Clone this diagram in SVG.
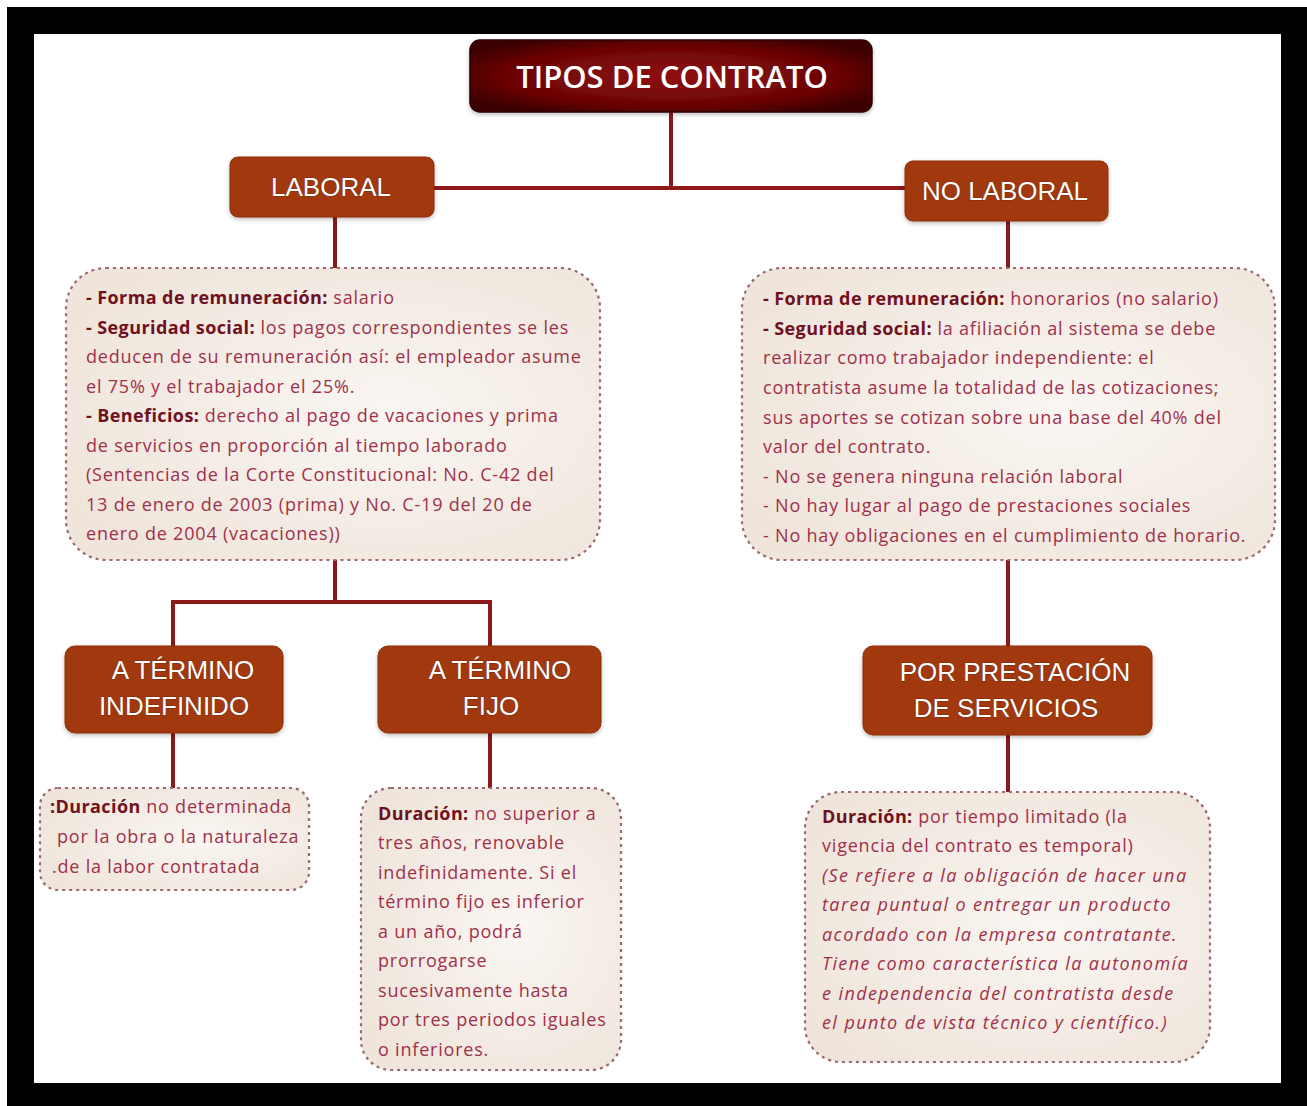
<svg xmlns="http://www.w3.org/2000/svg" width="1307" height="1106" viewBox="0 0 1307 1106">
<defs>
<radialGradient id="gTitle" cx="50%" cy="50%" r="60%">
<stop offset="0" stop-color="#900c0c"/>
<stop offset="0.7" stop-color="#6a0505"/>
<stop offset="1" stop-color="#3a0000"/>
</radialGradient>
<radialGradient id="gBox" cx="60%" cy="50%" r="65%">
<stop offset="0" stop-color="#faf6f2"/>
<stop offset="1" stop-color="#efe5db"/>
</radialGradient>
<filter id="sh" x="-10%" y="-10%" width="120%" height="130%">
<feDropShadow dx="0" dy="2" stdDeviation="2" flood-color="#000" flood-opacity="0.25"/>
</filter>
</defs>
<style>
.node rect.n{fill:#a2390d;stroke:#8a2e08;stroke-width:1}
.lbl{font-family:"Liberation Sans",Arial,sans-serif;font-size:26px;fill:#fff;text-anchor:middle;stroke:#5a1a08;stroke-width:0.6;paint-order:stroke}
.box{fill:url(#gBox);stroke:#9a6870;stroke-width:2.2;stroke-dasharray:3 4}
.t{font-family:"Open Sans",sans-serif;font-size:18px;letter-spacing:0.8px;fill:#a0304a}
.b{font-weight:bold;fill:#701020;letter-spacing:0.4px}
.i{font-style:italic;letter-spacing:1.4px}
.conn{stroke:#8c1818;stroke-width:4;fill:none}
</style>
<rect x="7" y="7" width="1300" height="1099" fill="#000"/>
<rect x="34" y="34" width="1247" height="1049" fill="#fff"/>

<g id="connectors">
<path class="conn" d="M671 112 V188 M433 188 H905"/>
<path class="conn" d="M335 217 V270"/>
<path class="conn" d="M335 560 V602 M173 602 H490 M173 600 V648 M490 600 V648"/>
<path class="conn" d="M173 733 V788 M490 733 V790"/>
<path class="conn" d="M1008 221 V270 M1008 560 V648 M1008 735 V792"/>
</g>

<g id="title" class="node">
<rect x="470" y="40" width="402" height="72" rx="10" fill="url(#gTitle)" stroke="#2a0000" stroke-width="1.5" filter="url(#sh)"/>
<text x="672" y="88" style="font-family:'Open Sans',sans-serif;font-weight:600;font-size:31px;fill:#fff;text-anchor:middle">TIPOS DE CONTRATO</text>
</g>

<g id="laboral" class="node">
<rect class="n" x="230" y="157" width="204" height="60" rx="8" filter="url(#sh)"/>
<text class="lbl" x="331" y="196">LABORAL</text>
</g>

<g id="nolaboral" class="node">
<rect class="n" x="905" y="161" width="203" height="60" rx="8" filter="url(#sh)"/>
<text class="lbl" x="1005" y="200">NO LABORAL</text>
</g>

<g id="laboral-info">
<rect class="box" x="66" y="268" width="534" height="292" rx="40"/>
<text class="t">
<tspan x="86" y="304"><tspan class="b">- Forma de remuneración:</tspan> salario</tspan>
<tspan x="86" y="334"><tspan class="b">- Seguridad social:</tspan> los pagos correspondientes se les</tspan>
<tspan x="86" y="363">deducen de su remuneración así: el empleador asume</tspan>
<tspan x="86" y="393">el 75% y el trabajador el 25%.</tspan>
<tspan x="86" y="422"><tspan class="b">- Beneficios:</tspan> derecho al pago de vacaciones y prima</tspan>
<tspan x="86" y="452">de servicios en proporción al tiempo laborado</tspan>
<tspan x="86" y="481">(Sentencias de la Corte Constitucional: No. C-42 del</tspan>
<tspan x="86" y="511">13 de enero de 2003 (prima) y No. C-19 del 20 de</tspan>
<tspan x="86" y="540">enero de 2004 (vacaciones))</tspan>
</text>
</g>

<g id="nolaboral-info">
<rect class="box" x="742" y="268" width="533" height="292" rx="40"/>
<text class="t">
<tspan x="763" y="305"><tspan class="b">- Forma de remuneración:</tspan> honorarios (no salario)</tspan>
<tspan x="763" y="335"><tspan class="b">- Seguridad social:</tspan> la afiliación al sistema se debe</tspan>
<tspan x="763" y="364">realizar como trabajador independiente: el</tspan>
<tspan x="763" y="394">contratista asume la totalidad de las cotizaciones;</tspan>
<tspan x="763" y="424">sus aportes se cotizan sobre una base del 40% del</tspan>
<tspan x="763" y="453">valor del contrato.</tspan>
<tspan x="763" y="483">- No se genera ninguna relación laboral</tspan>
<tspan x="763" y="512">- No hay lugar al pago de prestaciones sociales</tspan>
<tspan x="763" y="542">- No hay obligaciones en el cumplimiento de horario.</tspan>
</text>
</g>

<g id="indefinido" class="node">
<rect class="n" x="65" y="646" width="218" height="87" rx="10" filter="url(#sh)"/>
<text class="lbl" x="183" y="679">A TÉRMINO</text>
<text class="lbl" x="174" y="715">INDEFINIDO</text>
</g>

<g id="fijo" class="node">
<rect class="n" x="378" y="646" width="223" height="87" rx="10" filter="url(#sh)"/>
<text class="lbl" x="500" y="679">A TÉRMINO</text>
<text class="lbl" x="491" y="715">FIJO</text>
</g>

<g id="servicios" class="node">
<rect class="n" x="863" y="646" width="289" height="89" rx="10" filter="url(#sh)"/>
<text class="lbl" x="1015" y="681">POR PRESTACIÓN</text>
<text class="lbl" x="1006" y="717">DE SERVICIOS</text>
</g>

<g id="indefinido-info">
<rect class="box" x="40" y="788" width="269" height="102" rx="18"/>
<text class="t">
<tspan x="50" y="813"><tspan class="b">:Duración</tspan> no determinada</tspan>
<tspan x="57" y="843">por la obra o la naturaleza</tspan>
<tspan x="52" y="873">.de la labor contratada</tspan>
</text>
</g>

<g id="fijo-info">
<rect class="box" x="361" y="788" width="260" height="282" rx="30"/>
<text class="t">
<tspan x="378" y="820"><tspan class="b">Duración:</tspan> no superior a</tspan>
<tspan x="378" y="849">tres años, renovable</tspan>
<tspan x="378" y="879">indefinidamente. Si el</tspan>
<tspan x="378" y="908">término fijo es inferior</tspan>
<tspan x="378" y="938">a un año, podrá</tspan>
<tspan x="378" y="967">prorrogarse</tspan>
<tspan x="378" y="997">sucesivamente hasta</tspan>
<tspan x="378" y="1026">por tres periodos iguales</tspan>
<tspan x="378" y="1056">o inferiores.</tspan>
</text>
</g>

<g id="servicios-info">
<rect class="box" x="805" y="792" width="405" height="270" rx="36"/>
<text class="t">
<tspan x="822" y="823"><tspan class="b">Duración:</tspan> por tiempo limitado (la</tspan>
<tspan x="822" y="852">vigencia del contrato es temporal)</tspan>
<tspan class="i" x="822" y="882">(Se refiere a la obligación de hacer una</tspan>
<tspan class="i" x="822" y="911">tarea puntual o entregar un producto</tspan>
<tspan class="i" x="822" y="941">acordado con la empresa contratante.</tspan>
<tspan class="i" x="822" y="970">Tiene como característica la autonomía</tspan>
<tspan class="i" x="822" y="1000">e independencia del contratista desde</tspan>
<tspan class="i" x="822" y="1029">el punto de vista técnico y científico.)</tspan>
</text>
</g>
</svg>
